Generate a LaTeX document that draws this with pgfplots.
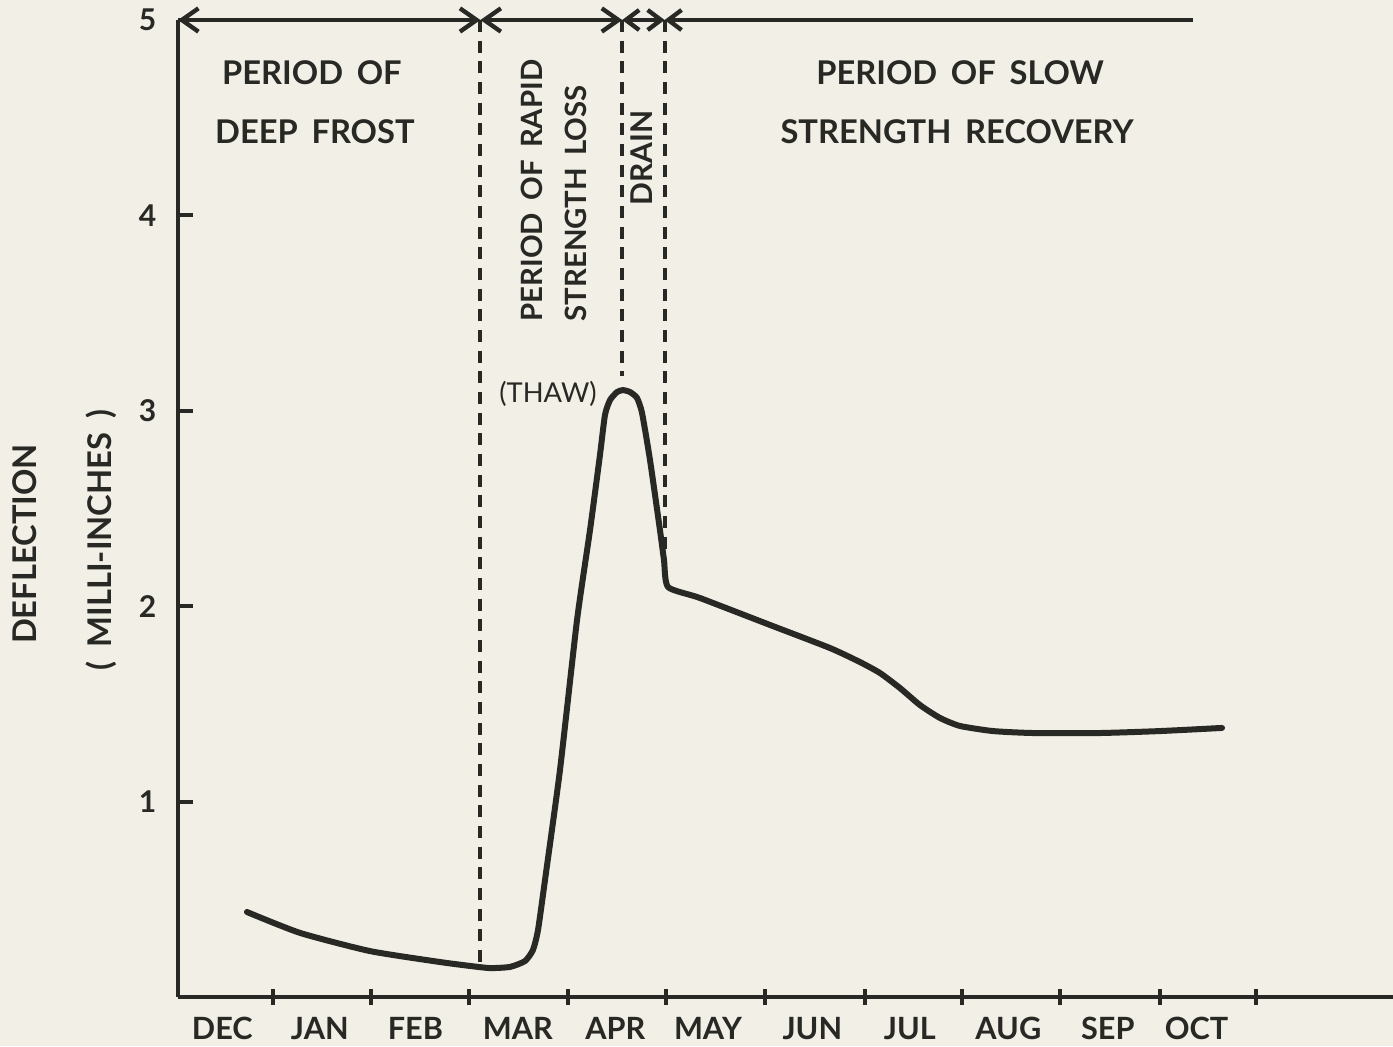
\documentclass[border=0pt]{standalone}
\usepackage{fontspec}
\setmainfont{Lato}
\usepackage{pgfplots}
\pgfplotsset{compat=1.18}
\usetikzlibrary{arrows.meta}
\definecolor{ink}{RGB}{40,40,36}
\definecolor{paper}{RGB}{241,239,230}
\newcommand{\ws}{\hspace{0.42em}}
\pgfplotstableread{
x y
0.700 0.435
1.239 0.328
1.949 0.235
2.660 0.179
2.964 0.159
3.168 0.148
3.371 0.154
3.523 0.184
3.604 0.241
3.655 0.343
3.726 0.599
3.878 1.162
4.051 1.929
4.183 2.390
4.284 2.774
4.335 2.979
4.386 3.055
4.457 3.096
4.518 3.106
4.589 3.096
4.660 3.066
4.711 2.989
4.792 2.748
4.893 2.390
4.934 2.236
4.975 2.098
5.299 2.042
6.010 1.904
6.619 1.786
6.924 1.714
7.127 1.658
7.330 1.581
7.533 1.494
7.736 1.428
7.939 1.387
8.274 1.361
8.680 1.351
9.360 1.351
9.970 1.361
10.599 1.377
}\curve
\begin{document}
\begin{tikzpicture}[x=1pt,y=1pt]
\fill[paper] (-53.4,-14.7) rectangle (364.5,299.1);
\begin{axis}[
  at={(0,0)}, anchor=south west,
  scale only axis, width=364.5pt, height=293.1pt,
  xmin=0, xmax=12.335, ymin=0, ymax=5,
  axis x line*=bottom, axis y line*=left,
  axis line style={ink, line width=1.2pt, -},
  clip=false,
  tick align=inside,
  major tick length=4.6pt,
  tick style={ink, line width=1.2pt},
  x tick style={yshift=-2.3pt},
  xtick={0.964,1.962,2.959,3.956,4.953,5.959,6.970,7.964,8.959,9.970,10.941},
  xticklabels={},
  extra x ticks={0.45,1.44,2.41,3.45,4.44,5.38,6.44,7.43,8.43,9.44,10.34},
  extra x tick labels={DEC,JAN,FEB,MAR,APR,MAY,JUN,JUL,AUG,SEP,OCT},
  extra x tick style={major tick length=0pt, tick label style={font=\fontsize{9.2}{11}\selectfont\bfseries, text=ink, yshift=-2.5pt}},
  ytick={1,2,3,4,5},
  yticklabel style={font=\fontsize{9}{10}\selectfont\bfseries, text=ink, xshift=-3pt},
  /pgf/number format/assume math mode=true,
]
\addplot[ink, line width=1.8pt, smooth, tension=0.35, line join=round, line cap=round] table[x=x,y=y] {\curve};

% dashed boundaries
\draw[ink, line width=1.2pt, dash pattern=on 3.6pt off 2.6pt] (axis cs:3.07,5) -- (axis cs:3.07,0.17);
\draw[ink, line width=1.2pt, dash pattern=on 3.6pt off 2.6pt] (axis cs:4.51,5) -- (axis cs:4.51,3.18);
\draw[ink, line width=1.2pt, dash pattern=on 3.6pt off 2.6pt] (axis cs:4.94,5) -- (axis cs:4.94,2.25);

% top period line
\draw[ink, line width=1.3pt, {Straight Barb[length=5pt,width=7pt]}-{Straight Barb[length=5pt,width=7pt]}] (axis cs:0,5) -- (axis cs:3.07,5);
\draw[ink, line width=1.3pt, {Straight Barb[length=5pt,width=7pt]}-{Straight Barb[length=5pt,width=7pt]}] (axis cs:3.07,5) -- (axis cs:4.51,5);
\draw[ink, line width=1.3pt, {Straight Barb[length=4pt,width=6pt]}-{Straight Barb[length=4pt,width=6pt]}] (axis cs:4.51,5) -- (axis cs:4.94,5);
\draw[ink, line width=1.3pt, {Straight Barb[length=4pt,width=6pt]}-] (axis cs:4.94,5) -- (axis cs:10.30,5);

% texts
\begin{scope}[every node/.style={text=ink, font=\fontsize{9.8}{12}\selectfont\bfseries, inner sep=0pt}]
\node at (axis cs:1.36,4.73) {PERIOD\ws OF};
\node at (axis cs:1.39,4.43) {DEEP\ws FROST};
\node at (axis cs:7.94,4.73) {PERIOD\ws OF\ws SLOW};
\node at (axis cs:7.91,4.43) {STRENGTH\ws RECOVERY};
\node[rotate=90, anchor=west, font=\fontsize{8.8}{11}\selectfont\bfseries] at (axis cs:3.594,3.454) {PERIOD\ws OF\ws RAPID};
\node[rotate=90, anchor=west, font=\fontsize{8.8}{11}\selectfont\bfseries] at (axis cs:4.041,3.454) {STRENGTH\ws LOSS};
\node[rotate=90, font=\fontsize{9}{11}\selectfont\bfseries] at (axis cs:4.711,4.294) {DRAIN};
\node[font=\fontsize{8.2}{10}\selectfont] at (axis cs:3.756,3.086) {(THAW)};
\node[rotate=90] at (axis cs:-1.553,2.318) {DEFLECTION};
\node[rotate=90] at (axis cs:-0.782,2.339) {(\ws MILLI-INCHES\ws )};
\end{scope}
\end{axis}
\pgfresetboundingbox
\path[use as bounding box] (-53.4,-14.7) rectangle (364.5,299.1);
\end{tikzpicture}
\end{document}
